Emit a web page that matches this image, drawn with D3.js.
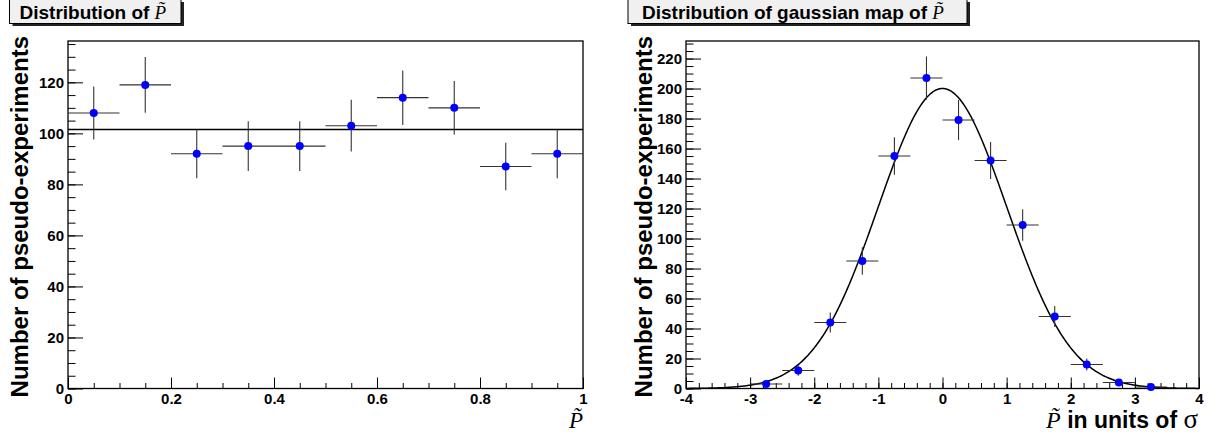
<!DOCTYPE html>
<html lang="en">
<head>
    <meta charset="UTF-8">
    <title>Pseudo-experiments</title>
    <script src="https://d3js.org/d3.v7.min.js"></script>
    <style>
        body { margin: 0; background: white; }
        svg { display: block; }
        .tick text { font-family: "Liberation Sans", Arial, sans-serif; font-weight: bold; font-size: 15px; fill: black; }
        .tick line { stroke: black; stroke-width: 1; }
        .axis path.domain { display: none; }
        .ytitle { font-family: "Liberation Sans", Arial, sans-serif; font-weight: bold; font-size: 24px; }
        .ptitle { font-family: "Liberation Sans", Arial, sans-serif; font-weight: bold; font-size: 19px; }
        .serif { font-family: "Liberation Serif", "DejaVu Serif", serif; font-style: italic; font-weight: normal; }
    </style>
</head>
<body>
<svg id="chart" width="1216" height="434"></svg>
<script>
    // left panel: flat distribution of P~
    let leftCenters = [0.05, 0.15, 0.25, 0.35, 0.45, 0.55, 0.65, 0.75, 0.85, 0.95];
    let leftCounts = [108, 119, 92, 95, 95, 103, 114, 110, 87, 92];
    let leftFitLevel = 101.5;
    let leftXTicks = [0, 0.2, 0.4, 0.6, 0.8, 1];
    let leftYTicks = [0, 20, 40, 60, 80, 100, 120];

    // right panel: gaussian map
    let rightCenters = [-2.75, -2.25, -1.75, -1.25, -0.75, -0.25, 0.25, 0.75, 1.25, 1.75, 2.25, 2.75, 3.25];
    let rightCounts = [3, 12, 44, 85, 155, 207, 179, 152, 109, 48, 16, 4, 1];
    let gausConst = 200, gausMean = 0.0, gausSigma = 1.0;
    let rightXTicks = [-4, -3, -2, -1, 0, 1, 2, 3, 4];
    let rightYTicks = [0, 20, 40, 60, 80, 100, 120, 140, 160, 180, 200, 220];

    let svg = d3.select('#chart');
    let frameTop = 41, frameBottom = 388.5;

    function titleBox(x0, x1, parts, tx){
        let g = svg.append('g');
        g.append('rect').attr('x', x0 + 3).attr('y', 2).attr('width', x1 - x0).attr('height', 24).attr('fill', '#222');
        g.append('rect').attr('x', x0).attr('y', -1).attr('width', x1 - x0).attr('height', 24.5)
            .attr('fill', '#f0f0f0').attr('stroke', 'black').attr('stroke-width', 1);
        let t = g.append('text').attr('class', 'ptitle').attr('x', tx).attr('y', 18.5);
        parts.forEach(function(p){
            t.append('tspan').attr('class', p[1] ? 'serif' : null).text(p[0]);
        });
    }

    function panel(cfg){
        let x = d3.scaleLinear().domain(cfg.xDomain).range([cfg.x0, cfg.x1]);
        let y = d3.scaleLinear().domain([0, cfg.yMax]).range([frameBottom, frameTop]);
        let g = svg.append('g');

        // minor ticks
        g.append('g').attr('class', 'axis').attr('transform', 'translate(0,' + frameBottom + ')')
            .call(d3.axisBottom(x).tickValues(cfg.xMinor).tickSize(-5.5).tickFormat(''));
        g.append('g').attr('class', 'axis').attr('transform', 'translate(' + cfg.x0 + ',0)')
            .call(d3.axisLeft(y).tickValues(cfg.yMinor).tickSize(-7.5).tickFormat(''));
        // major ticks
        g.append('g').attr('class', 'axis').attr('transform', 'translate(0,' + frameBottom + ')')
            .call(d3.axisBottom(x).tickValues(cfg.xTicks).tickSize(-11).tickPadding(5).tickFormat(d3.format('')));
        g.append('g').attr('class', 'axis').attr('transform', 'translate(' + cfg.x0 + ',0)')
            .call(d3.axisLeft(y).tickValues(cfg.yTicks).tickSize(-15).tickPadding(4).tickFormat(d3.format('')));

        g.selectAll('.tick text').text(function(){ return d3.select(this).text().replace('\u2212', '-'); });

        // frame
        g.append('rect').attr('x', cfg.x0).attr('y', frameTop).attr('width', cfg.x1 - cfg.x0).attr('height', frameBottom - frameTop)
            .attr('fill', 'none').attr('stroke', 'black').attr('stroke-width', 1.3);

        // fit
        g.append('path').datum(cfg.fit).attr('fill', 'none').attr('stroke', 'black').attr('stroke-width', 1.5)
            .attr('d', d3.line().x(function(d){ return x(d[0]); }).y(function(d){ return y(d[1]); }));

        // error bars + markers
        let pts = cfg.centers.map(function(c, i){ return {x: c, n: cfg.counts[i]}; });
        let e = g.append('g').attr('stroke', '#333').attr('stroke-width', 1.1);
        e.selectAll('line.h').data(pts).enter().append('line')
            .attr('x1', function(d){ return x(d.x - cfg.halfBin); })
            .attr('x2', function(d){ return x(d.x + cfg.halfBin); })
            .attr('y1', function(d){ return y(d.n); }).attr('y2', function(d){ return y(d.n); });
        e.selectAll('line.v').data(pts).enter().append('line')
            .attr('x1', function(d){ return x(d.x); }).attr('x2', function(d){ return x(d.x); })
            .attr('y1', function(d){ return y(Math.max(0, d.n - Math.sqrt(d.n))); })
            .attr('y2', function(d){ return y(d.n + Math.sqrt(d.n)); });
        g.selectAll('circle').data(pts).enter().append('circle')
            .attr('cx', function(d){ return x(d.x); }).attr('cy', function(d){ return y(d.n); })
            .attr('r', 4).attr('fill', '#0000ff');

        // y title
        svg.append('text').attr('class', 'ytitle')
            .attr('transform', 'translate(' + cfg.yTitleX + ',36) rotate(-90)')
            .attr('text-anchor', 'end').text('Number of pseudo-experiments');
    }

    panel({
        x0: 68, x1: 583, xDomain: [0, 1], yMax: 136.2,
        xTicks: leftXTicks, xMinor: d3.range(0, 1.0001, 0.05),
        yTicks: leftYTicks, yMinor: d3.range(0, 136, 5),
        centers: leftCenters, counts: leftCounts, halfBin: 0.05,
        fit: [[0, leftFitLevel], [1, leftFitLevel]],
        yTitleX: 28
    });

    panel({
        x0: 686, x1: 1199, xDomain: [-4, 4], yMax: 231.7,
        xTicks: rightXTicks, xMinor: d3.range(-4, 4.0001, 0.2),
        yTicks: rightYTicks, yMinor: d3.range(0, 231, 5),
        centers: rightCenters, counts: rightCounts, halfBin: 0.25,
        fit: d3.range(-4, 4.0001, 0.02).map(function(v){
            return [v, gausConst * Math.exp(-0.5 * Math.pow((v - gausMean) / gausSigma, 2))];
        }),
        yTitleX: 652
    });

    titleBox(9.5, 181, [['Distribution of '], ['P\u0303', true]], 19.5);
    titleBox(628, 967, [['Distribution of gaussian map of '], ['P\u0303', true]], 642);

    // x titles
    svg.append('text').attr('class', 'serif').attr('x', 583).attr('y', 428)
        .attr('text-anchor', 'end').style('font-size', '23px').text('P\u0303');
    let xt = svg.append('text').attr('x', 1198).attr('y', 428).attr('text-anchor', 'end')
        .style('font-family', '"Liberation Sans", Arial, sans-serif').style('font-weight', 'bold').style('font-size', '23px');
    xt.append('tspan').attr('class', 'serif').style('font-size', '24px').text('P\u0303');
    xt.append('tspan').text(' in units of ');
    xt.append('tspan').style('font-family', '"Liberation Serif", serif').style('font-weight', 'normal').style('font-size', '27px').text('\u03c3');
</script>
</body>
</html>
